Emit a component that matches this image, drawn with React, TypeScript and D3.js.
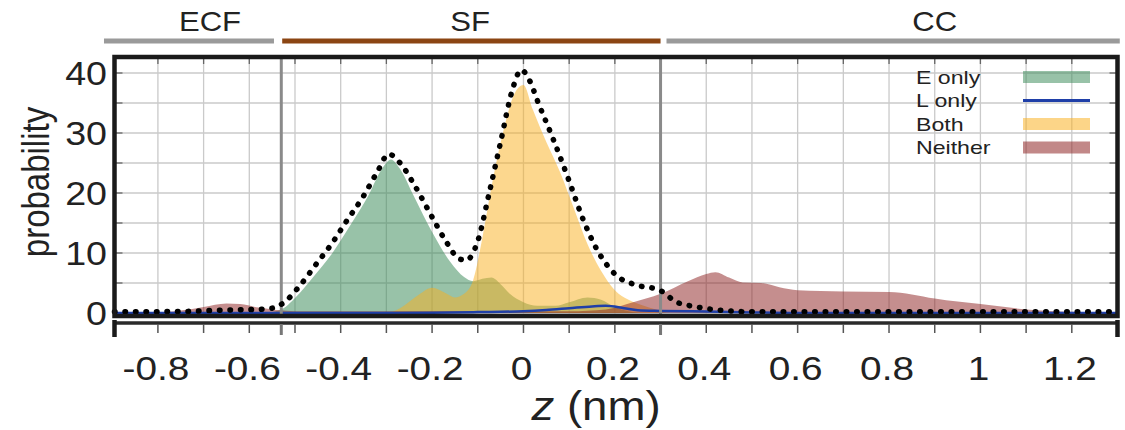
import React from "react";
import * as d3 from "d3";

// values (z in nm, probability)
const eOnly: [number, number][] = [
  [-0.895, 0], [-0.57, 0], [-0.53, 0.6], [-0.5, 2.5], [-0.46, 6], [-0.42, 9.8], [-0.38, 14.5],
  [-0.34, 19.5], [-0.31, 24], [-0.29, 25.6], [-0.27, 24], [-0.24, 19.5], [-0.2, 13.5],
  [-0.16, 8.5], [-0.13, 6], [-0.11, 5.3], [-0.09, 5.7], [-0.07, 5.9], [-0.05, 4.8],
  [-0.03, 3.2], [0, 1.8], [0.03, 1.2], [0.07, 1.2], [0.1, 1.8], [0.14, 2.6], [0.17, 2.2],
  [0.2, 1], [0.23, 0.3], [0.26, 0], [1.3, 0],
];
const lOnly: [number, number][] = [
  [-0.895, 0], [-0.3, 0], [-0.2, 0.05], [-0.1, 0.15], [0, 0.3], [0.05, 0.5], [0.1, 0.8],
  [0.15, 1.1], [0.18, 1.2], [0.22, 0.8], [0.25, 0.45], [0.3, 0.35], [0.4, 0.25], [0.5, 0.1],
  [0.6, 0], [1.3, 0],
];
const both: [number, number][] = [
  [-0.895, 0], [-0.3, 0], [-0.27, 0.8], [-0.23, 3], [-0.2, 4.2], [-0.17, 3.3], [-0.15, 2.6],
  [-0.13, 3.2], [-0.11, 5.5], [-0.09, 12.5], [-0.07, 21], [-0.045, 30], [-0.02, 36.5], [0, 38],
  [0.02, 34], [0.05, 28.5], [0.08, 23.5], [0.11, 17.5], [0.14, 11.5], [0.17, 7], [0.2, 3.8],
  [0.23, 2.2], [0.26, 1.3], [0.29, 0.6], [0.32, 0], [1.3, 0],
];
const neither: [number, number][] = [
  [-0.895, 0], [-0.8, 0.05], [-0.75, 0.4], [-0.7, 1], [-0.65, 1.6], [-0.62, 1.5], [-0.58, 0.9],
  [-0.54, 0.5], [-0.5, 0.3], [0.1, 0.3], [0.18, 0.6], [0.24, 1.8], [0.3, 3.2], [0.36, 5.3],
  [0.4, 6.5], [0.42, 6.8], [0.45, 5.9], [0.48, 5.1], [0.52, 5], [0.56, 4.3], [0.6, 3.8],
  [0.7, 3.6], [0.8, 3.5], [0.85, 3.1], [0.9, 2.4], [1.0, 1.5], [1.1, 0.6], [1.2, 0.2],
  [1.25, 0.05], [1.3, 0],
];
const total: [number, number][] = [
  [-0.895, 0.2], [-0.75, 0.25], [-0.65, 0.5], [-0.58, 0.6], [-0.55, 0.8], [-0.52, 2],
  [-0.49, 4.5], [-0.45, 8.5], [-0.42, 11.5], [-0.39, 15], [-0.35, 19.5], [-0.32, 23.5],
  [-0.295, 26.5], [-0.27, 25], [-0.24, 21.5], [-0.2, 16], [-0.17, 12], [-0.14, 9], [-0.125, 8.8],
  [-0.1, 12], [-0.075, 20], [-0.05, 28.5], [-0.025, 37], [-0.005, 40.5], [0.015, 38.5],
  [0.03, 35.5], [0.065, 29], [0.1, 22], [0.13, 15.7], [0.16, 10.7], [0.2, 6.5], [0.25, 4.6],
  [0.29, 4], [0.31, 3.3], [0.33, 2], [0.38, 1], [0.44, 0.4], [0.5, 0.2], [1.3, 0.2],
];

const xTicks = [-0.8, -0.6, -0.4, -0.2, 0, 0.2, 0.4, 0.6, 0.8, 1, 1.2];
const yTicks = [0, 10, 20, 30, 40];
const regionNames = ["ECF", "SF", "CC"];
const regionRanges: [number, number][] = [[-0.918, -0.546], [-0.528, 0.3], [0.313, 1.305]];
const regionLabelAt = [-0.686, -0.117, 0.9];
const boundaries = [-0.53, 0.3];
const legendLabels = ["E only", "L only", "Both", "Neither"];

const regionColors = ["#9a9a9a", "#8b4513", "#9a9a9a"];
const seriesColors = ["#3c8c5a", "#1f3fa8", "#faaf1e", "#8c1e1e"];

const FONT = "'Liberation Sans', Arial, Helvetica, sans-serif";
const INK = "#222";

const fmt = (t: number) => String(t); // keeps the plain hyphen minus

export default function App() {
  const x = d3.scaleLinear().domain([-0.895, 1.3]).range([114.5, 1117.5]);
  const y = d3.scaleLinear().domain([0, 40]).range([313, 73]);
  const top = 57;
  const bottom = 316;

  const area = d3
    .area<[number, number]>()
    .x((d) => x(d[0]))
    .y0(y(0))
    .y1((d) => y(d[1]))
    .curve(d3.curveMonotoneX);
  const line = d3
    .line<[number, number]>()
    .x((d) => x(d[0]))
    .y((d) => y(d[1]))
    .curve(d3.curveMonotoneX);

  const xGrid = d3.range(-8, 13).map((i) => i / 10);
  const yGrid = d3.range(0, 9).map((i) => i * 5);

  return (
    <svg
      width={1125}
      height={430}
      style={{ position: "absolute", left: 0, top: 0, background: "#fff" }}
    >
      {/* region bars on top */}
      {regionNames.map((name, i) => (
        <g key={name}>
          <line
            x1={x(regionRanges[i][0])}
            x2={x(regionRanges[i][1])}
            y1={41}
            y2={41}
            stroke={regionColors[i]}
            strokeWidth={5}
          />
          <text
            transform={`translate(${x(regionLabelAt[i])},31) scale(1.15,1)`}
            textAnchor="middle"
            fontFamily={FONT}
            fontSize={27}
            fill={INK}
          >
            {name}
          </text>
        </g>
      ))}

      {/* grid */}
      {xGrid.map((g) => (
        <line key={"gx" + g} x1={x(g)} x2={x(g)} y1={top} y2={bottom} stroke="#cacaca" strokeWidth={1.3} />
      ))}
      {yGrid.map((g) => (
        <line key={"gy" + g} x1={x.range()[0]} x2={x.range()[1]} y1={y(g)} y2={y(g)} stroke="#cacaca" strokeWidth={1.3} />
      ))}
      {/* inner ticks */}
      {xGrid.map((g) => (
        <line key={"tx" + g} x1={x(g)} x2={x(g)} y1={top} y2={top + 7} stroke="#666" strokeWidth={1.3} />
      ))}
      {yGrid.map((g) => (
        <g key={"ty" + g}>
          <line x1={x.range()[0]} x2={x.range()[0] + 8} y1={y(g)} y2={y(g)} stroke="#666" strokeWidth={1.3} />
          <line x1={x.range()[1] - 8} x2={x.range()[1]} y1={y(g)} y2={y(g)} stroke="#666" strokeWidth={1.3} />
        </g>
      ))}

      {/* distributions */}
      <path d={area(eOnly) ?? ""} fill={seriesColors[0]} fillOpacity={0.53} />
      <path d={area(both) ?? ""} fill={seriesColors[2]} fillOpacity={0.5} />
      <path d={area(neither) ?? ""} fill={seriesColors[3]} fillOpacity={0.5} />
      <path d={line(lOnly) ?? ""} fill="none" stroke={seriesColors[1]} strokeWidth={2.5} />

      {/* region boundaries */}
      {boundaries.map((b) => (
        <line key={"b" + b} x1={x(b)} x2={x(b)} y1={top} y2={bottom} stroke="#8a8a8a" strokeWidth={3} />
      ))}

      <path
        d={line(total) ?? ""}
        fill="none"
        stroke="#000"
        strokeWidth={5.5}
        strokeDasharray="0.5 10"
        strokeLinecap="round"
      />

      {/* frame */}
      <rect
        x={x.range()[0]}
        y={top}
        width={x.range()[1] - x.range()[0]}
        height={bottom - top}
        fill="none"
        stroke="#1a1a1a"
        strokeWidth={4.5}
      />
      {/* detached x axis bar */}
      <line x1={x.range()[0]} x2={x.range()[1]} y1={323} y2={323} stroke="#2a2a2a" strokeWidth={3.5} />
      <line x1={x.range()[0]} x2={x.range()[0]} y1={320} y2={337} stroke="#1a1a1a" strokeWidth={4.5} />
      <line x1={x.range()[1]} x2={x.range()[1]} y1={320} y2={337} stroke="#1a1a1a" strokeWidth={4.5} />
      {xGrid.map((g) => (
        <line key={"bx" + g} x1={x(g)} x2={x(g)} y1={324} y2={333} stroke="#555" strokeWidth={1.5} />
      ))}
      {boundaries.map((b) => (
        <line key={"bb" + b} x1={x(b)} x2={x(b)} y1={324} y2={335} stroke="#777" strokeWidth={3} />
      ))}

      {/* tick labels */}
      {xTicks.map((t) => (
        <text
          key={"xl" + t}
          transform={`translate(${x(t) - 2},380) scale(1.14,1)`}
          textAnchor="middle"
          fontFamily={FONT}
          fontSize={34}
          fill={INK}
        >
          {fmt(t)}
        </text>
      ))}
      {yTicks.map((t) => (
        <text
          key={"yl" + t}
          transform={`translate(107,${y(t) + 12}) scale(1.14,1)`}
          textAnchor="end"
          fontFamily={FONT}
          fontSize={33}
          fill={INK}
        >
          {t}
        </text>
      ))}

      {/* axis titles */}
      <text
        transform="translate(49,182) scale(1.15,1) rotate(-90)"
        textAnchor="middle"
        fontFamily={FONT}
        fontSize={33}
        fill={INK}
      >
        probability
      </text>
      <text
        transform="translate(596,420) scale(1.14,1)"
        textAnchor="middle"
        fontFamily={FONT}
        fontSize={40}
        fill={INK}
      >
        <tspan fontStyle="italic">z</tspan> (nm)
      </text>

      {/* legend */}
      {legendLabels.map((label, i) => {
        const cy = 77 + i * 23.5;
        return (
          <g key={label}>
            <text
              transform={`translate(916,${cy + 6.5}) scale(1.25,1)`}
              fontFamily={FONT}
              fontSize={18.5}
              fill={INK}
            >
              {label}
            </text>
            {i === 1 ? (
              <line x1={1023} x2={1090} y1={cy} y2={cy} stroke={seriesColors[i]} strokeWidth={3} />
            ) : (
              <rect x={1023} y={cy - 6} width={67} height={12} fill={seriesColors[i]} fillOpacity={0.53} />
            )}
          </g>
        );
      })}
    </svg>
  );
}
